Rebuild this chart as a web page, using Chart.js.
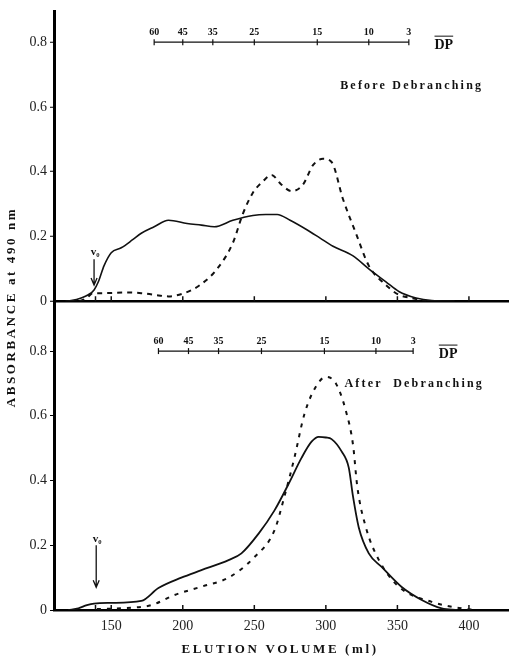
<!DOCTYPE html>
<html lang="en">
<head>
    <meta charset="UTF-8">
    <title>Elution profile</title>
    <style>
        body {
          margin: 0;
          background: #fff;
        }
        #wrap {
          width: 509px;
          height: 664px;
        }
    </style>
    <script src="https://cdn.jsdelivr.net/npm/chart.js"></script>
</head>
<body>
  <div id="wrap"><canvas id="chart"></canvas></div>
  <script>
    // x axis (elution volume, ml)
    const xTickVals = [150, 200, 250, 300, 350, 400];
    const baseTickVol = [139, 150, 200, 250, 300, 350, 400];
    const absTicks = [0, 0.2, 0.4, 0.6, 0.8];

    // DP scale drawn at 0.8 in each panel
    const dpLabels = ['60', '45', '35', '25', '15', '10', '3'];
    const dpBeforeVol = [180, 200, 221, 250, 294, 330, 358];
    const dpAfterVol = [183, 204, 225, 255, 299, 335, 361];

    // before debranching
    const beforeSolidVol = [118, 122, 129, 134, 138, 141, 145, 150, 157, 165, 171, 180, 190, 203, 213, 222, 235, 249, 258, 266, 275, 287, 296, 305, 319, 330, 342, 351, 363, 374, 390];
    const beforeSolidAbs = [0, 0.002, 0.01, 0.02, 0.035, 0.06, 0.11, 0.15, 0.165, 0.19, 0.21, 0.23, 0.25, 0.24, 0.235, 0.23, 0.25, 0.265, 0.268, 0.268, 0.25, 0.22, 0.195, 0.17, 0.14, 0.10, 0.06, 0.03, 0.01, 0.002, 0];
    const beforeDashVol = [128, 133, 137, 145, 160, 171, 180, 190, 201, 212, 224, 235, 242, 249, 256, 262, 269, 276, 284, 291, 298, 304, 312, 321, 330, 342, 351, 360, 370];
    const beforeDashAbs = [0, 0.01, 0.025, 0.025, 0.027, 0.025, 0.02, 0.015, 0.025, 0.05, 0.10, 0.18, 0.27, 0.335, 0.37, 0.39, 0.36, 0.34, 0.36, 0.42, 0.44, 0.43, 0.315, 0.21, 0.11, 0.05, 0.02, 0.01, 0];

    // after debranching
    const afterSolidVol = [120, 127, 133, 138, 150, 171, 183, 199, 213, 232, 241, 253, 264, 274, 283, 290, 295, 300, 304, 311, 316, 319, 323, 330, 339, 353, 367, 381, 392];
    const afterSolidAbs = [0, 0.005, 0.015, 0.02, 0.022, 0.028, 0.068, 0.10, 0.123, 0.154, 0.175, 0.236, 0.307, 0.39, 0.47, 0.52, 0.535, 0.533, 0.528, 0.49, 0.44, 0.35, 0.255, 0.175, 0.133, 0.071, 0.031, 0.005, 0];
    const afterDashVol = [140, 160, 178, 194, 213, 232, 250, 264, 271, 278, 285, 293, 300, 307, 314, 319, 322, 328, 337, 351, 374, 395, 405];
    const afterDashAbs = [0.003, 0.006, 0.015, 0.046, 0.072, 0.10, 0.163, 0.245, 0.35, 0.47, 0.605, 0.69, 0.72, 0.70, 0.615, 0.51, 0.38, 0.255, 0.155, 0.072, 0.025, 0.005, 0];

    const pts = (xs, ys) => xs.map((v, i) => ({x: v, y: ys[i]}));
    const serif = '"Liberation Serif", "DejaVu Serif", serif';

    function line(data, axis, dash, width) {
        return {
            data: data,
            yAxisID: axis,
            borderColor: '#111',
            borderWidth: width,
            borderDash: dash,
            pointRadius: 0,
            fill: false,
            cubicInterpolationMode: 'monotone'
        };
    }

    // annotations: baseline ticks, DP scales, v0 arrows, labels, titles
    const extras = {
        id: 'extras',
        afterDatasetsDraw(chart) {
            const {ctx, scales} = chart;
            const x = scales.x, yTop = scales.yTop, yBot = scales.yBot;
            ctx.save();
            ctx.strokeStyle = '#111';
            ctx.fillStyle = '#111';

            // small inward ticks on both baselines
            [yTop, yBot].forEach(ys => {
                const y0 = ys.getPixelForValue(0);
                ctx.lineWidth = 1.5;
                baseTickVol.forEach(v => {
                    const px = x.getPixelForValue(v);
                    ctx.beginPath();
                    ctx.moveTo(px, y0);
                    ctx.lineTo(px, y0 - 5);
                    ctx.stroke();
                });
            });

            function dpScale(ys, vols) {
                const py = ys.getPixelForValue(0.8);
                const x0 = x.getPixelForValue(vols[0]);
                const x1 = x.getPixelForValue(vols[vols.length - 1]);
                ctx.lineWidth = 1.2;
                ctx.beginPath();
                ctx.moveTo(x0, py);
                ctx.lineTo(x1, py);
                ctx.stroke();
                ctx.font = 'bold 10px ' + serif;
                ctx.textAlign = 'center';
                ctx.textBaseline = 'alphabetic';
                vols.forEach((v, i) => {
                    const px = x.getPixelForValue(v);
                    ctx.beginPath();
                    ctx.moveTo(px, py - 3);
                    ctx.lineTo(px, py + 3);
                    ctx.stroke();
                    ctx.fillText(dpLabels[i], px, py - 7);
                });
                // DP with bar
                ctx.font = 'bold 14px ' + serif;
                ctx.textBaseline = 'middle';
                const cx = x1 + 35;
                ctx.fillText('DP', cx, py + 3);
                const w = ctx.measureText('DP').width;
                ctx.lineWidth = 1;
                ctx.beginPath();
                ctx.moveTo(cx - w / 2, py - 6);
                ctx.lineTo(cx + w / 2, py - 6);
                ctx.stroke();
            }
            dpScale(yTop, dpBeforeVol);
            dpScale(yBot, dpAfterVol);

            function arrow(ys, vol, from, to) {
                const px = x.getPixelForValue(vol);
                const a = ys.getPixelForValue(from), b = ys.getPixelForValue(to);
                ctx.lineWidth = 1.3;
                ctx.beginPath();
                ctx.moveTo(px, a);
                ctx.lineTo(px, b);
                ctx.moveTo(px - 3, b - 7);
                ctx.lineTo(px, b);
                ctx.lineTo(px + 3, b - 7);
                ctx.stroke();
                ctx.font = 'bold 11px ' + serif;
                ctx.textAlign = 'center';
                ctx.textBaseline = 'bottom';
                ctx.fillText('v\u2080', px + 1, a - 1);
            }
            arrow(yTop, 138, 0.13, 0.05);
            arrow(yBot, 139.5, 0.2, 0.07);

            // panel labels
            ctx.font = 'bold 12px ' + serif;
            ctx.letterSpacing = '2.2px';
            ctx.textAlign = 'left';
            ctx.textBaseline = 'middle';
            ctx.fillText('Before Debranching', x.getPixelForValue(310), yTop.getPixelForValue(0.665));
            ctx.fillText('After  Debranching', x.getPixelForValue(313), yBot.getPixelForValue(0.70));

            // axis titles
            ctx.font = 'bold 13px ' + serif;
            ctx.letterSpacing = '2.6px';
            ctx.textAlign = 'center';
            ctx.fillText('ELUTION VOLUME (ml)', 280, 650);
            ctx.translate(12, 307);
            ctx.rotate(-Math.PI / 2);
            ctx.fillText('ABSORBANCE at 490 nm', 0, 0);
            ctx.restore();
        }
    };

    const yBase = {
        type: 'linear',
        position: 'left',
        stack: 'panels',
        min: 0,
        border: {display: true, color: '#000', width: 3},
        ticks: {
            font: {family: serif, size: 14},
            color: '#222',
            padding: 3,
            callback: v => v === 0 ? '0' : v.toFixed(1)
        },
        afterBuildTicks: s => { s.ticks = absTicks.map(v => ({value: v})); },
        afterFit: s => { s.width = 54; }
    };

    const ctx = document.getElementById('chart').getContext('2d');
    const chart = new Chart(ctx, {
        type: 'line',
        data: {
            datasets: [
                line(pts(beforeSolidVol, beforeSolidAbs), 'yTop', [], 1.6),
                line(pts(beforeDashVol, beforeDashAbs), 'yTop', [5, 5], 2),
                line(pts(afterSolidVol, afterSolidAbs), 'yBot', [], 1.8),
                line(pts(afterDashVol, afterDashAbs), 'yBot', [4, 6], 2)
            ]
        },
        options: {
            responsive: true,
            maintainAspectRatio: false,
            animation: false,
            layout: {padding: {top: 8, left: 0, right: 0, bottom: 0}},
            plugins: {legend: {display: false}, tooltip: {enabled: false}},
            scales: {
                x: {
                    type: 'linear',
                    min: 110,
                    max: 428,
                    border: {display: true, color: '#000', width: 2.5},
                    grid: {drawOnChartArea: false, drawTicks: false},
                    ticks: {font: {family: serif, size: 14}, color: '#222', padding: 8},
                    afterBuildTicks: s => { s.ticks = xTickVals.map(v => ({value: v})); },
                    afterFit: s => { s.height = 54; }
                },
                yBot: Object.assign({}, yBase, {
                    stackWeight: 310,
                    max: 0.954,
                    grid: {drawOnChartArea: false, tickLength: 4, color: '#000', tickWidth: 1}
                }),
                yTop: Object.assign({}, yBase, {
                    stackWeight: 291,
                    max: 0.895,
                    grid: {
                        drawOnChartArea: true,
                        tickLength: 4,
                        tickColor: '#000',
                        tickWidth: 1,
                        lineWidth: 2.5,
                        color: c => (c.tick && c.tick.value === 0) ? '#000' : 'rgba(0,0,0,0)'
                    }
                })
            }
        },
        plugins: [extras]
    });
  </script>
</body>
</html>
